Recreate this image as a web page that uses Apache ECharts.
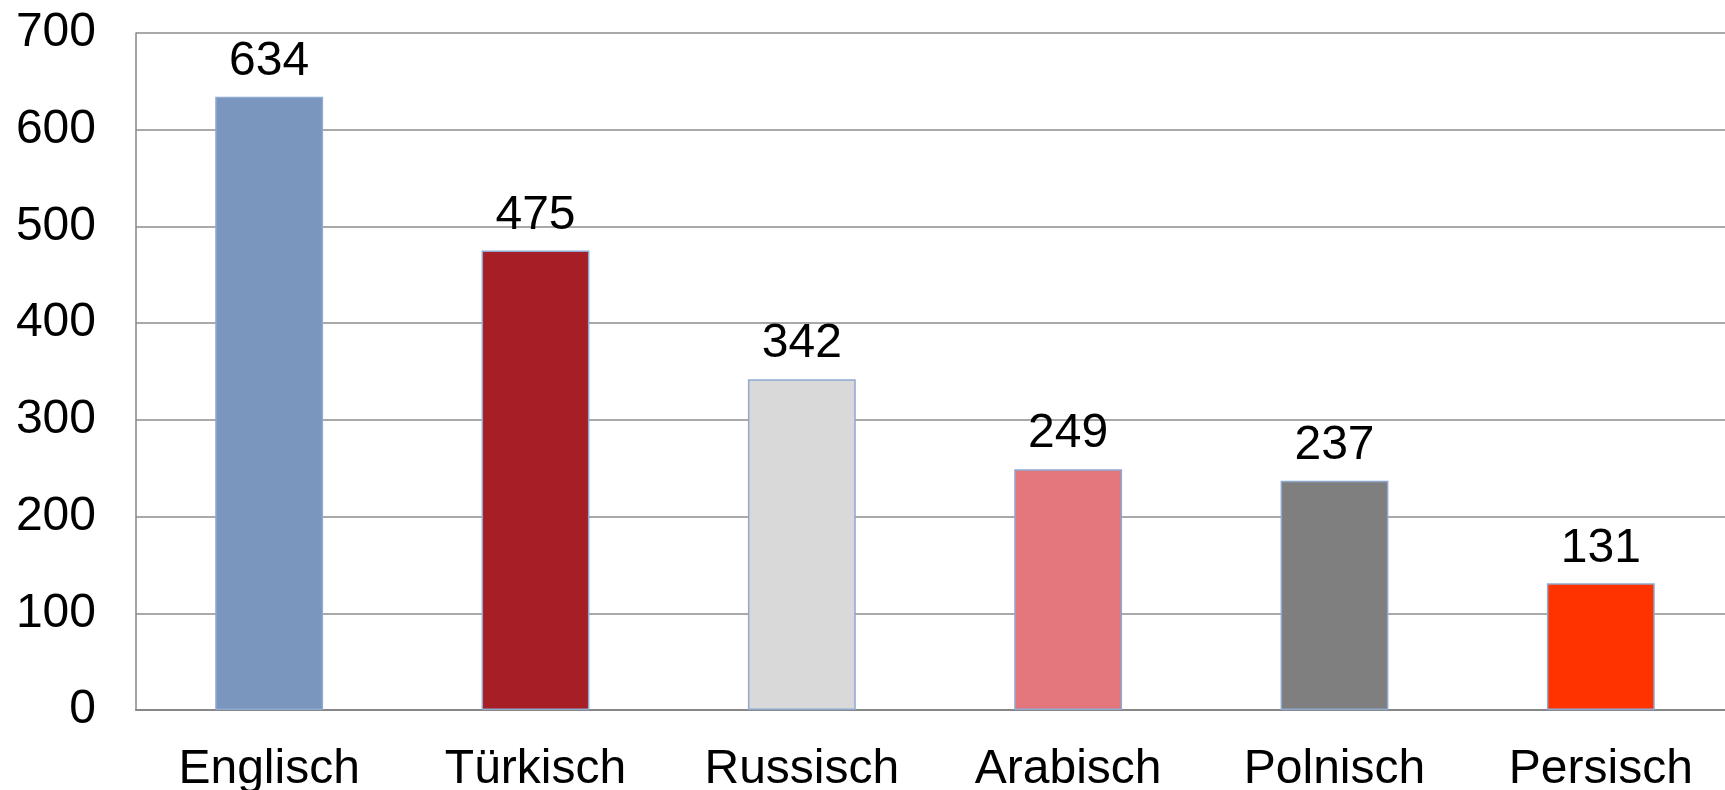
<!DOCTYPE html>
<html><head><meta charset="utf-8">
<script src="https://cdn.jsdelivr.net/npm/echarts@6/dist/echarts.min.js"></script>
<style>html,body{margin:0;padding:0;background:#fff}#c{width:1725px;height:790px}</style>
</head><body><div id="c"></div>
<script>
const categories = ["Englisch", "Türkisch", "Russisch", "Arabisch", "Polnisch", "Persisch"];
const values = [634, 475, 342, 249, 237, 131];
const barColors = ["#7A96BE", "#A61E26", "#D9D9D9", "#E3777D", "#7F7F7F", "#FF3300"];
const yTicks = [0, 100, 200, 300, 400, 500, 600, 700];

const font = "'Liberation Sans', Arial, sans-serif";
const chart = echarts.init(document.getElementById('c'));
chart.setOption({
  animation: false,
  grid: { left: 136, width: 1598, top: 33, bottom: 80, containLabel: false, outerBoundsMode: 'none' },
  xAxis: {
    type: 'category', data: categories,
    axisLine: { show: true, lineStyle: { color: '#878787', width: 2 } },
    axisTick: { show: false },
    axisLabel: { color: '#000', fontFamily: font, fontSize: 48, margin: 36 }
  },
  yAxis: {
    type: 'value', min: yTicks[0], max: yTicks[yTicks.length - 1], interval: 100,
    axisLine: { show: true, lineStyle: { color: '#878787', width: 1.5 } },
    axisTick: { show: false },
    splitLine: { show: true, lineStyle: { color: '#8c8c8c', width: 1.5 } },
    axisLabel: { color: '#000', fontFamily: font, fontSize: 48, margin: 40 }
  },
  series: [{
    type: 'bar',
    data: values.map((v, i) => ({ value: v, itemStyle: { color: barColors[i] } })),
    barWidth: '40.5%',
    itemStyle: { borderColor: '#8FA9D0', borderWidth: 1.5 },
    label: { show: true, position: 'top', distance: 11, color: '#000', fontFamily: font, fontSize: 48 }
  }]
});
</script></body></html>
